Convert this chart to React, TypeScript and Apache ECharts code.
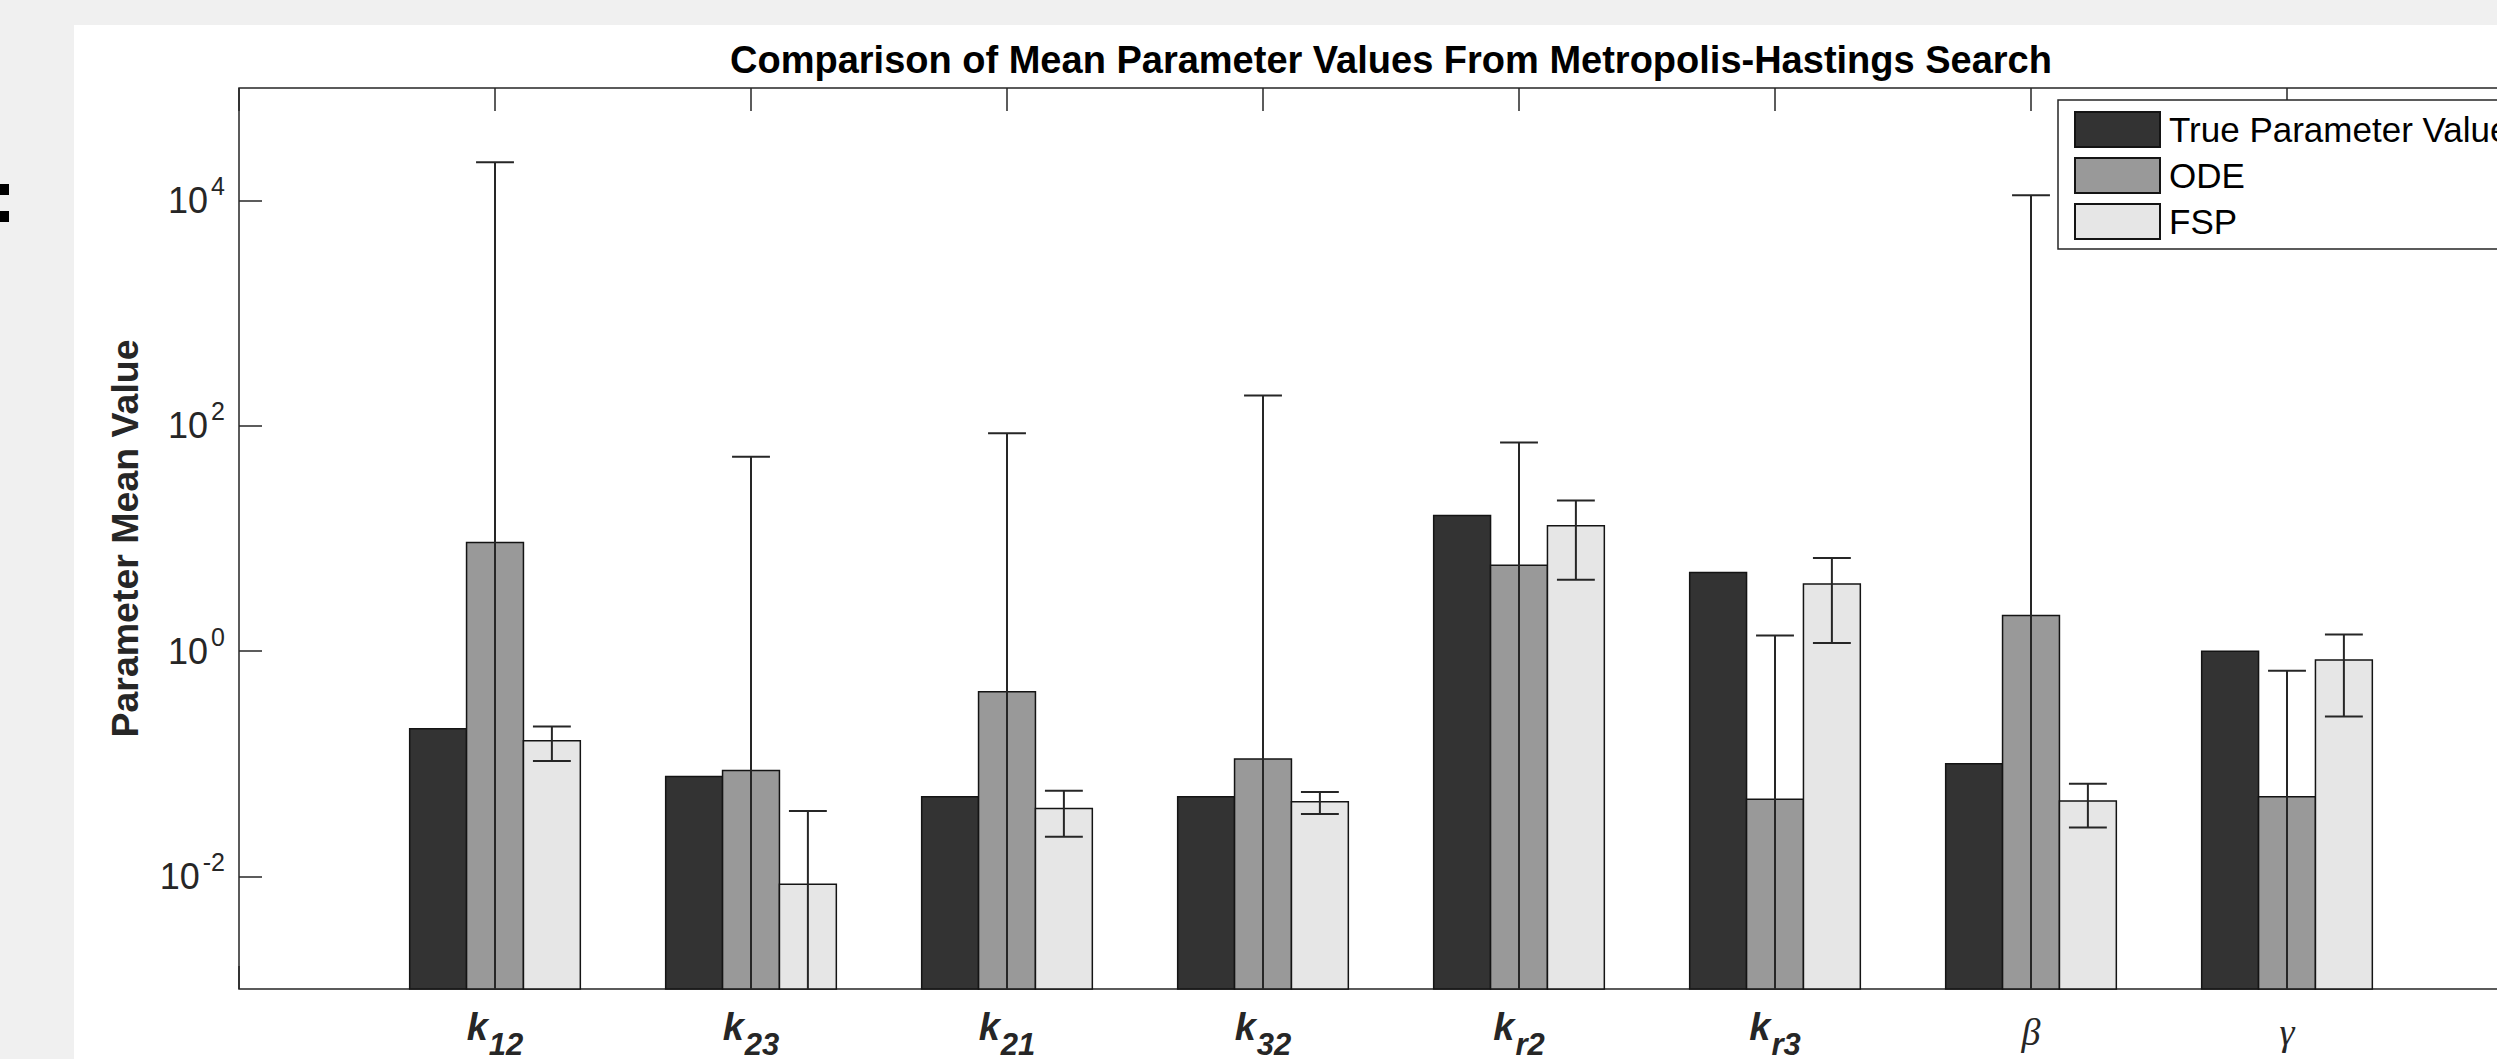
import React, { useEffect, useRef } from 'react';
import * as echarts from 'echarts';

// ---------- data ----------
const categoryMain = ['k', 'k', 'k', 'k', 'k', 'k', 'β', 'γ'];
const categorySub = ['12', '23', '21', '32', 'r2', 'r3', '', ''];
const seriesNames = ['True Parameter Value', 'ODE', 'FSP'];
const trueValues = [0.205, 0.077, 0.051, 0.051, 16.0, 5.0, 0.1, 1.0];
const odeValues = [9.2, 0.087, 0.435, 0.11, 5.78, 0.0485, 2.07, 0.051];
const fspValues = [0.16, 0.0085, 0.04, 0.046, 13.0, 3.95, 0.0467, 0.834];
const odeErrors = [21890, 53.1, 85.4, 186, 65.5, 1.33, 11140, 0.617];
const fspErrors = [0.054, 0.0295, 0.0175, 0.0102, 8.7, 2.77, 0.0196, 0.571];
const yTickValues = [0.01, 1, 100, 10000];
const titleText = 'Comparison of Mean Parameter Values From Metropolis-Hastings Search';
const yAxisName = 'Parameter Mean Value';

// ---------- styling ----------
const FONT = 'Liberation Sans, Arial, Helvetica, sans-serif';
const SERIF = 'Liberation Serif, Times New Roman, serif';
const AXIS_COLOR = '#262626';
const barColors = ['#333333', '#999999', '#e6e6e6'];
const BAR_FRAC = 0.2222;
const CAP_FRAC = 0.148;
const offsets = [-BAR_FRAC, 0, BAR_FRAC];
const GRID = { left: 239, top: 88, width: 2304, height: 901 };

function makeSeries(idx: number, values: number[], errs: number[] | null) {
  return {
    type: 'custom',
    name: seriesNames[idx],
    xAxisIndex: 0,
    yAxisIndex: 0,
    itemStyle: { color: barColors[idx], borderColor: '#141414', borderWidth: 1.5 },
    encode: { x: 0, y: 1 },
    data: values.map((v, i) => [i + 1, v, errs ? errs[i] : 0]),
    renderItem: (params: any, api: any) => {
      const cat = api.value(0) as number;
      const v = api.value(1) as number;
      const e = api.value(2) as number;
      const cs = params.coordSys;
      const x = cat + offsets[idx];
      const p = api.coord([x, v]);
      const unit = api.coord([x + 1, v])[0] - p[0];
      const w = BAR_FRAC * unit;
      const yBottom = cs.y + cs.height;
      const children: any[] = [
        {
          type: 'rect',
          shape: { x: p[0] - w / 2, y: p[1], width: w, height: yBottom - p[1] },
          style: { fill: barColors[idx], stroke: '#141414', lineWidth: 1.5 },
        },
      ];
      if (e > 0) {
        const yHi = api.coord([x, v + e])[1];
        const lo = v - e;
        const yLo = lo > 0 ? api.coord([x, lo])[1] : yBottom;
        const cap = (CAP_FRAC * unit) / 2;
        const es = { stroke: '#262626', lineWidth: 2 };
        children.push({ type: 'line', shape: { x1: p[0], y1: yHi, x2: p[0], y2: yLo }, style: es });
        children.push({ type: 'line', shape: { x1: p[0] - cap, y1: yHi, x2: p[0] + cap, y2: yHi }, style: es });
        if (lo > 0) {
          children.push({ type: 'line', shape: { x1: p[0] - cap, y1: yLo, x2: p[0] + cap, y2: yLo }, style: es });
        }
      }
      return { type: 'group', children };
    },
  };
}

function xLabel(val: number) {
  const i = Math.round(val) - 1;
  if (i < 0 || i >= categoryMain.length) return '';
  if (categorySub[i]) return `{k|${categoryMain[i]}}{s|${categorySub[i]}}`;
  return `{g|${categoryMain[i]}}`;
}

function yLabel(val: number) {
  const ex = Math.round(Math.log10(val));
  return `{b|10}{p|${ex}}`;
}

const option: any = {
  animation: false,
  backgroundColor: '#f0f0f0',
  graphic: [
    { type: 'rect', shape: { x: 74, y: 25, width: 2486, height: 1034 }, style: { fill: '#ffffff' }, z: -10 },
    { type: 'rect', shape: { x: 0, y: 184, width: 9, height: 11 }, style: { fill: '#000000' } },
    { type: 'rect', shape: { x: 0, y: 211, width: 9, height: 11 }, style: { fill: '#000000' } },
    {
      type: 'text',
      x: 1391,
      y: 60,
      style: {
        text: titleText,
        fontFamily: FONT,
        fontWeight: 'bold',
        fontSize: 38,
        fill: '#000000',
        textAlign: 'center',
        textVerticalAlign: 'middle',
      },
    },
  ],
  grid: {
    left: GRID.left,
    top: GRID.top,
    width: GRID.width,
    height: GRID.height,
    show: true,
    borderColor: AXIS_COLOR,
    borderWidth: 1.5,
    backgroundColor: 'transparent',
    outerBoundsMode: 'none',
  },
  legend: {
    orient: 'vertical',
    left: 2058,
    top: 100,
    padding: [11, 40, 9, 16],
    itemWidth: 85,
    itemHeight: 35,
    itemGap: 9,
    icon: 'rect',
    backgroundColor: '#ffffff',
    borderColor: AXIS_COLOR,
    borderWidth: 1.5,
    selectedMode: false,
    data: seriesNames,
    textStyle: { fontFamily: FONT, fontSize: 35, lineHeight: 35, color: '#000000', padding: [0, 0, 0, 4] },
  },
  xAxis: [
    {
      type: 'value',
      min: 0,
      max: 9,
      interval: 1,
      position: 'bottom',
      splitLine: { show: false },
      axisLine: { show: false },
      axisTick: { show: true, inside: true, length: 23, lineStyle: { color: AXIS_COLOR, width: 1.5 } },
      axisLabel: {
        show: true,
        margin: 21,
        formatter: xLabel,
        rich: {
          k: { fontFamily: FONT, fontWeight: 'bold', fontStyle: 'italic', fontSize: 38, lineHeight: 38, padding: [0, 0, 4, 0], verticalAlign: 'middle', color: AXIS_COLOR },
          s: { fontFamily: FONT, fontWeight: 'bold', fontStyle: 'italic', fontSize: 31, lineHeight: 31, padding: [31, 0, 0, 1], verticalAlign: 'middle', color: AXIS_COLOR },
          g: { fontFamily: SERIF, fontStyle: 'italic', fontSize: 38, lineHeight: 38, padding: [6, 0, 0, 0], verticalAlign: 'middle', color: AXIS_COLOR },
        },
      },
    },
    {
      type: 'value',
      min: 0,
      max: 9,
      interval: 1,
      position: 'top',
      splitLine: { show: false },
      axisLine: { show: false },
      axisTick: { show: true, inside: true, length: 23, lineStyle: { color: AXIS_COLOR, width: 1.5 } },
      axisLabel: { show: false },
    },
  ],
  yAxis: {
    type: 'log',
    logBase: 10,
    min: 0.001,
    max: 100000,
    splitLine: { show: false },
    axisLine: { show: false },
    axisTick: { show: true, inside: true, length: 23, customValues: yTickValues, lineStyle: { color: AXIS_COLOR, width: 1.5 } },
    axisLabel: {
      show: true,
      margin: 14,
      customValues: yTickValues,
      formatter: yLabel,
      rich: {
        b: { fontFamily: FONT, fontSize: 36, lineHeight: 36, padding: [16, 0, 0, 0], verticalAlign: 'bottom', color: AXIS_COLOR },
        p: { fontFamily: FONT, fontSize: 25, lineHeight: 25, padding: [0, 0, 20, 3], verticalAlign: 'bottom', color: AXIS_COLOR },
      },
    },
    name: yAxisName,
    nameLocation: 'middle',
    nameGap: 95,
    nameMoveOverlap: false,
    nameTextStyle: { fontFamily: FONT, fontWeight: 'bold', fontSize: 37.5, lineHeight: 37.5, color: AXIS_COLOR },
  },
  series: [
    makeSeries(0, trueValues, null),
    makeSeries(1, odeValues, odeErrors),
    makeSeries(2, fspValues, fspErrors),
  ],
};

export default function App() {
  const ref = useRef<HTMLDivElement>(null);
  useEffect(() => {
    document.body.style.margin = '0';
    document.body.style.overflow = 'hidden';
    const chart = echarts.init(ref.current as HTMLDivElement, undefined, { renderer: 'svg', width: 2560, height: 1059 });
    chart.setOption(option);
    return () => chart.dispose();
  }, []);
  return <div ref={ref} style={{ position: 'fixed', left: 0, top: 0, width: 2560, height: 1059 }} />;
}
